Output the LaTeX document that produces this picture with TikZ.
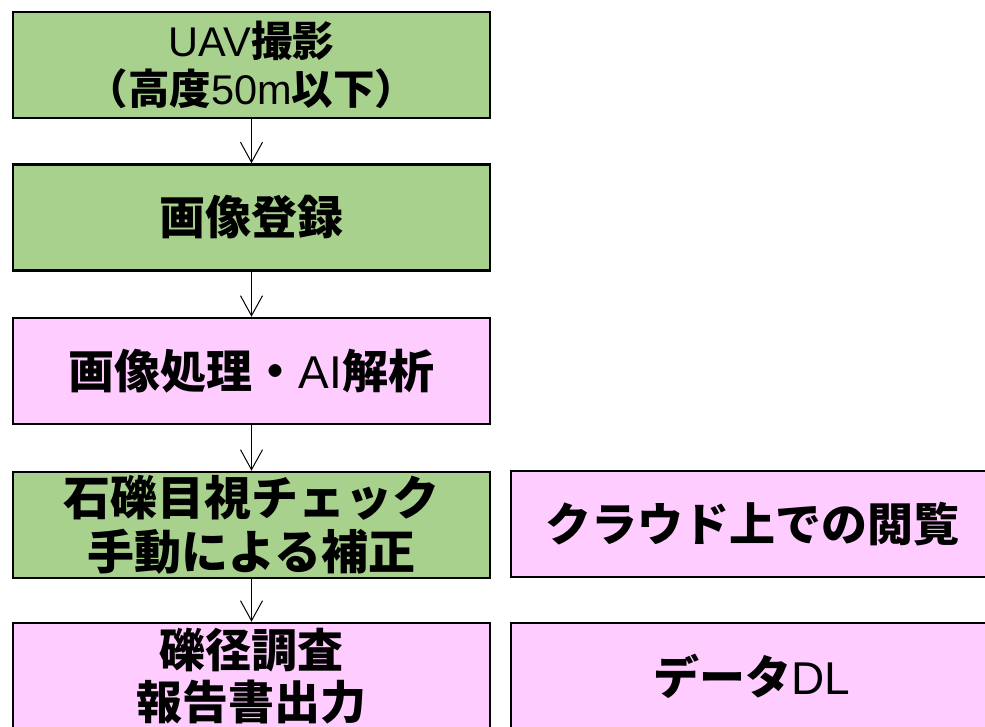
\documentclass[tikz,border=0pt]{standalone}
\usepackage{fontspec}
\setmainfont{Liberation Sans}
\newfontfamily\cjk{Noto Sans CJK JP}
\usetikzlibrary{arrows.meta}
\definecolor{boxgreen}{RGB}{169,209,142}
\definecolor{boxpink}{RGB}{255,204,255}
\newcommand{\J}[1]{{\cjk\bfseries #1}}
\begin{document}
\begin{tikzpicture}[x=1pt,y=-1pt,
  box/.style={draw=black,line width=2.5pt,minimum width=477pt,minimum height=106pt,
    inner sep=0pt,align=center,font=\fontsize{46}{50}\selectfont},
  greenbox/.style={box,fill=boxgreen},
  pinkbox/.style={box,fill=boxpink},
  widebox/.style={minimum width=482pt},
  arr/.style={line width=1pt,-{Straight Barb[length=20pt,width=22pt,line width=1pt]}}]
\useasboundingbox (0,0) rectangle (985,727);
\node[greenbox,font=\fontsize{41.5}{48}\selectfont] (b1) at (251.5,65) {UAV\J{撮影}\\\J{（高度}50m\J{以下）}};
\node[greenbox] (b2) at (251.5,217.5) {\J{画像登録}};
\node[pinkbox] (b3) at (251.5,371) {\J{画像処理・}AI\J{解析}};
\node[greenbox,font=\fontsize{47}{54}\selectfont] (b4) at (251.5,525) {\J{石礫目視チェック}\\\J{手動による補正}};
\node[pinkbox,font=\fontsize{46}{52}\selectfont] (b6) at (251.5,676) {\J{礫径調査}\\\J{報告書出力}};
\node[pinkbox,widebox] (b5) at (752,524) {\J{クラウド上での閲覧}};
\node[pinkbox,widebox] (b7) at (752,676) {\J{データ}DL};
\draw[arr] (b1.south) -- (b2.north);
\draw[arr] (b2.south) -- (b3.north);
\draw[arr] (b3.south) -- (b4.north);
\draw[arr] (b4.south) -- (b6.north);
\end{tikzpicture}
\end{document}
